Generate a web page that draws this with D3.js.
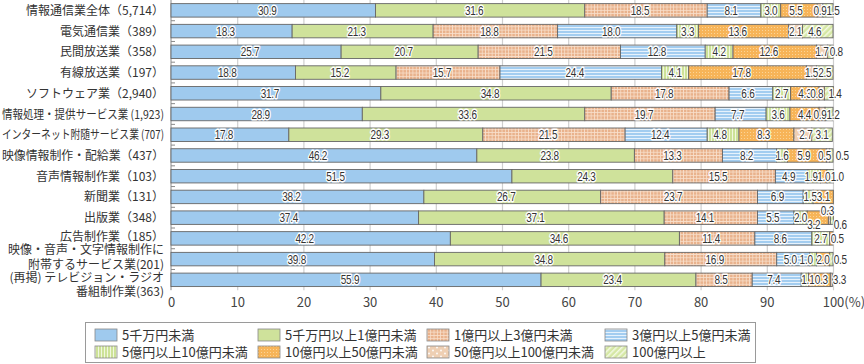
<!DOCTYPE html>
<html><head><meta charset="utf-8">
<script src="https://cdn.jsdelivr.net/npm/d3@7"></script>
<style>
html,body{margin:0;padding:0;background:#fff;}
svg{display:block;}
</style></head>
<body>
<svg id="c" width="864" height="364"></svg>
<script>
// ---------- data ----------
const categories = [
  "情報通信業全体（5,714）",
  "電気通信業（389）",
  "民間放送業（358）",
  "有線放送業（197）",
  "ソフトウェア業（2,940）",
  "情報処理・提供サービス業 (1,923)",
  "インターネット附随サービス業 (707)",
  "映像情報制作・配給業（437）",
  "音声情報制作業（103）",
  "新聞業（131）",
  "出版業（348）",
  "広告制作業（185）",
  "映像・音声・文字情報制作に|附帯するサービス業(201)",
  "(再掲) テレビジョン・ラジオ|番組制作業(363)"
];
const seriesNames = [
  "5千万円未満", "5千万円以上1億円未満", "1億円以上3億円未満", "3億円以上5億円未満",
  "5億円以上10億円未満", "10億円以上50億円未満", "50億円以上100億円未満", "100億円以上"
];
const s1 = [30.9, 18.3, 25.7, 18.8, 31.7, 28.9, 17.8, 46.2, 51.5, 38.2, 37.4, 42.2, 39.8, 55.9];
const s2 = [31.6, 21.3, 20.7, 15.2, 34.8, 33.6, 29.3, 23.8, 24.3, 26.7, 37.1, 34.6, 34.8, 23.4];
const s3 = [18.5, 18.8, 21.5, 15.7, 17.8, 19.7, 21.5, 13.3, 15.5, 23.7, 14.1, 11.4, 16.9, 8.5];
const s4 = [8.1, 18.0, 12.8, 24.4, 6.6, 7.7, 12.4, 8.2, 4.9, 6.9, 5.5, 8.6, 5.0, 7.4];
const s5 = [3.0, 3.3, 4.2, 4.1, 2.7, 3.6, 4.8, 1.6, 1.9, 1.5, 2.0, 2.7, 1.0, 1.1];
const s6 = [5.5, 13.6, 12.6, 17.8, 4.3, 4.4, 8.3, 5.9, 1.0, 3.1, 3.2, 0.5, 2.0, 3.3];
const s7 = [0.9, 2.1, 1.7, 1.5, 0.8, 0.9, 2.7, 0.5, 0, 0, 0.3, 0, 0, 0.3];
const s8 = [1.5, 4.6, 0.8, 2.5, 1.4, 1.2, 3.1, 0.5, 1.0, 0, 0.6, 0, 0.5, 0];
const seriesValues = [s1, s2, s3, s4, s5, s6, s7, s8];
const xTicks = [0, 10, 20, 30, 40, 50, 60, 70, 80, 90, 100];

// label nudges for crowded small segments: "row-series": [dx, dy]
const labelNudge = {
  "0-7":[5,0], "2-7":[6,0], "4-6":[-5,0], "4-7":[6,0], "5-6":[-2,0], "5-7":[4,0],
  "6-6":[3,0], "7-6":[-3.5,0], "7-7":[11,0], "8-4":[-3,0], "8-7":[7,0], "9-4":[2,0],
  "10-5":[-4,7], "10-6":[-2,-7], "10-7":[8,7], "11-5":[6,0], "12-4":[-7,0], "12-7":[9,0],
  "13-4":[3,0], "13-5":[20,0], "13-6":[-10,0]
};

// ---------- build ----------
const svg = d3.select("#c");
const defs = svg.append("defs");

function pat(id, w, h, base, draw){
  const p = defs.append("pattern").attr("id", id).attr("patternUnits","userSpaceOnUse")
    .attr("width", w).attr("height", h);
  p.append("rect").attr("width", w).attr("height", h).attr("fill", base);
  draw(p);
}
pat("p3", 3.3, 3.3, "#e9b28c", p => {
  p.append("line").attr("x1",0).attr("y1",0.4).attr("x2",3.3).attr("y2",0.4).attr("stroke","#f8dfcb").attr("stroke-width",0.8);
  p.append("line").attr("x1",0.4).attr("y1",0).attr("x2",0.4).attr("y2",3.3).attr("stroke","#f8dfcb").attr("stroke-width",0.8);
});
pat("p4", 4, 3, "#a3cdf0", p => {
  p.append("rect").attr("x",0).attr("y",0).attr("width",4).attr("height",1).attr("fill","#e6f2fc");
});
pat("p5", 3, 4, "#cde298", p => {
  p.append("rect").attr("x",0).attr("y",0).attr("width",1).attr("height",4).attr("fill","#f1f7df");
});
pat("p6", 3, 3, "#f7b458", p => {
  p.append("rect").attr("x",0).attr("y",0).attr("width",1).attr("height",1).attr("fill","#fbd497");
});
pat("p7", 8, 6, "#eecfb3", p => {
  p.append("circle").attr("cx",2).attr("cy",1.5).attr("r",0.9).attr("fill","#fff");
  p.append("circle").attr("cx",6).attr("cy",4.5).attr("r",0.9).attr("fill","#fff");
});
defs.append("pattern").attr("id","p8").attr("patternUnits","userSpaceOnUse")
  .attr("width",4).attr("height",4).attr("patternTransform","rotate(45)")
  .call(p => {
    p.append("rect").attr("width",4).attr("height",4).attr("fill","#d5e7a4");
    p.append("rect").attr("width",1.5).attr("height",4).attr("fill","#f3f9e4");
  });

const fills = ["#9fcaee", "#cfe29b", "url(#p3)", "url(#p4)", "url(#p5)", "url(#p6)", "url(#p7)", "url(#p8)"];

const rows = categories.map((c, i) => {
  const o = {cat: c};
  seriesNames.forEach((s, j) => o[s] = seriesValues[j][i]);
  return o;
});
const stacked = d3.stack().keys(seriesNames)(rows);

const x = d3.scaleLinear().domain([0, 100]).range([171, 833]);
const plotBottom = 290.2;
const y = d3.scaleBand().domain(categories).range([0, plotBottom]).paddingInner(0.35).paddingOuter(0.175);

// grid + x axis
const xAxis = d3.axisBottom(x).tickValues(xTicks).tickSize(-plotBottom).tickFormat(d => d);
const gx = svg.append("g").attr("transform", `translate(0,${plotBottom})`).call(xAxis);
gx.select(".domain").remove();
gx.selectAll(".tick line").attr("stroke", "#cfcfcf").attr("stroke-width", 1.2)
  .filter(d => d === 0).remove();
gx.selectAll(".tick text").attr("y", 17).attr("dy", 0)
  .attr("font-family", "'Noto Sans CJK JP', 'Noto Sans', sans-serif").attr("font-size", 13)
  .attr("fill", "#444");
gx.selectAll(".tick").filter(d => d === 100).each(function(){
  const t = d3.select(this).select("text");
  const w = t.node().getComputedTextLength();
  t.attr("text-anchor", "start").attr("x", -w/2).text("100").append("tspan").text("(%)");
});

// left axis line and band ticks
svg.append("line").attr("x1", x(0)).attr("x2", x(0)).attr("y1", 0).attr("y2", plotBottom)
  .attr("stroke", "#8a8a8a").attr("stroke-width", 1);
const step = y.step();
svg.append("g").selectAll("line").data(d3.range(1, categories.length)).join("line")
  .attr("x1", x(0)).attr("x2", x(0) + 4)
  .attr("y1", k => k * step).attr("y2", k => k * step)
  .attr("stroke", "#8a8a8a").attr("stroke-width", 1);

// bars
const gBars = svg.append("g");
stacked.forEach((layer, si) => {
  gBars.append("g").selectAll("rect").data(layer.filter(d => d[1] - d[0] > 0)).join("rect")
    .attr("x", d => x(d[0]))
    .attr("y", d => y(d.data.cat))
    .attr("width", d => Math.min(x(d[1]), x(100.05)) - x(d[0]))
    .attr("height", y.bandwidth())
    .attr("fill", fills[si])
    .attr("stroke", "#666").attr("stroke-width", 0.9);
});

// value labels (condensed)
const gLab = svg.append("g")
  .attr("font-family", "'Liberation Sans', Arial, sans-serif")
  .attr("font-size", 12.5).attr("text-anchor", "middle");
stacked.forEach((layer, si) => {
  layer.forEach((d, ri) => {
    const v = d[1] - d[0];
    if (v <= 0) return;
    const key = ri + "-" + si;
    const w = x(d[1]) - x(d[0]);
    let dx = w > 60 ? -6 : (w > 30 ? -3 : 0), dy = 0;
    if (labelNudge[key]) { dx = labelNudge[key][0]; dy = labelNudge[key][1]; }
    const cx = (x(d[0]) + x(d[1])) / 2 + dx;
    const cy = y(d.data.cat) + y.bandwidth() / 2 + 4.5 + dy;
    gLab.append("text")
      .attr("transform", `translate(${cx},${cy}) scale(0.8,1)`)
      .attr("fill", "#333").attr("stroke", "#fff").attr("stroke-width", 2.8)
      .attr("stroke-linejoin", "round").attr("paint-order", "stroke")
      .attr("letter-spacing", -0.3)
      .text(seriesValues[si][ri].toFixed(1));
  });
});

// category labels
const gCat = svg.append("g").attr("font-family", "'Noto Sans CJK JP', sans-serif")
  .attr("font-size", 12).attr("fill", "#333").attr("text-anchor", "end");
categories.forEach((c, i) => {
  const lines = c.split("|");
  const cy = y(c) + y.bandwidth() / 2;
  let first = 4.5;
  if (lines.length > 1) first = (i === categories.length - 1) ? 2 : -5;
  if (i === 11) first = 3;
  lines.forEach((ln, k) => {
    const t = gCat.append("text").attr("x", 164).attr("y", cy + first + k * 14.5).text(ln);
    const w = t.node().getComputedTextLength();
    if (w > 162) t.attr("textLength", 162).attr("lengthAdjust", "spacingAndGlyphs");
  });
});

// legend
const lg = svg.append("g");
lg.append("rect").attr("x", 85.5).attr("y", 322.5).attr("width", 670).attr("height", 40)
  .attr("fill", "#fff").attr("stroke", "#9a9a9a").attr("stroke-width", 1);
const colX = [95, 258, 427, 605];
const rowY = [335, 352];
const li = lg.selectAll("g").data(seriesNames).join("g")
  .attr("transform", (d, i) => `translate(${colX[i % 4]},${rowY[Math.floor(i / 4)]})`);
li.append("rect").attr("x", 0).attr("y", -6).attr("width", 22).attr("height", 12)
  .attr("fill", (d, i) => fills[i]).attr("stroke", "#888").attr("stroke-width", 0.8);
li.append("text").attr("x", 27).attr("y", 4.5)
  .attr("font-family", "'Noto Sans CJK JP', sans-serif").attr("font-size", 13).attr("fill", "#333")
  .text(d => d);
</script>
</body></html>
